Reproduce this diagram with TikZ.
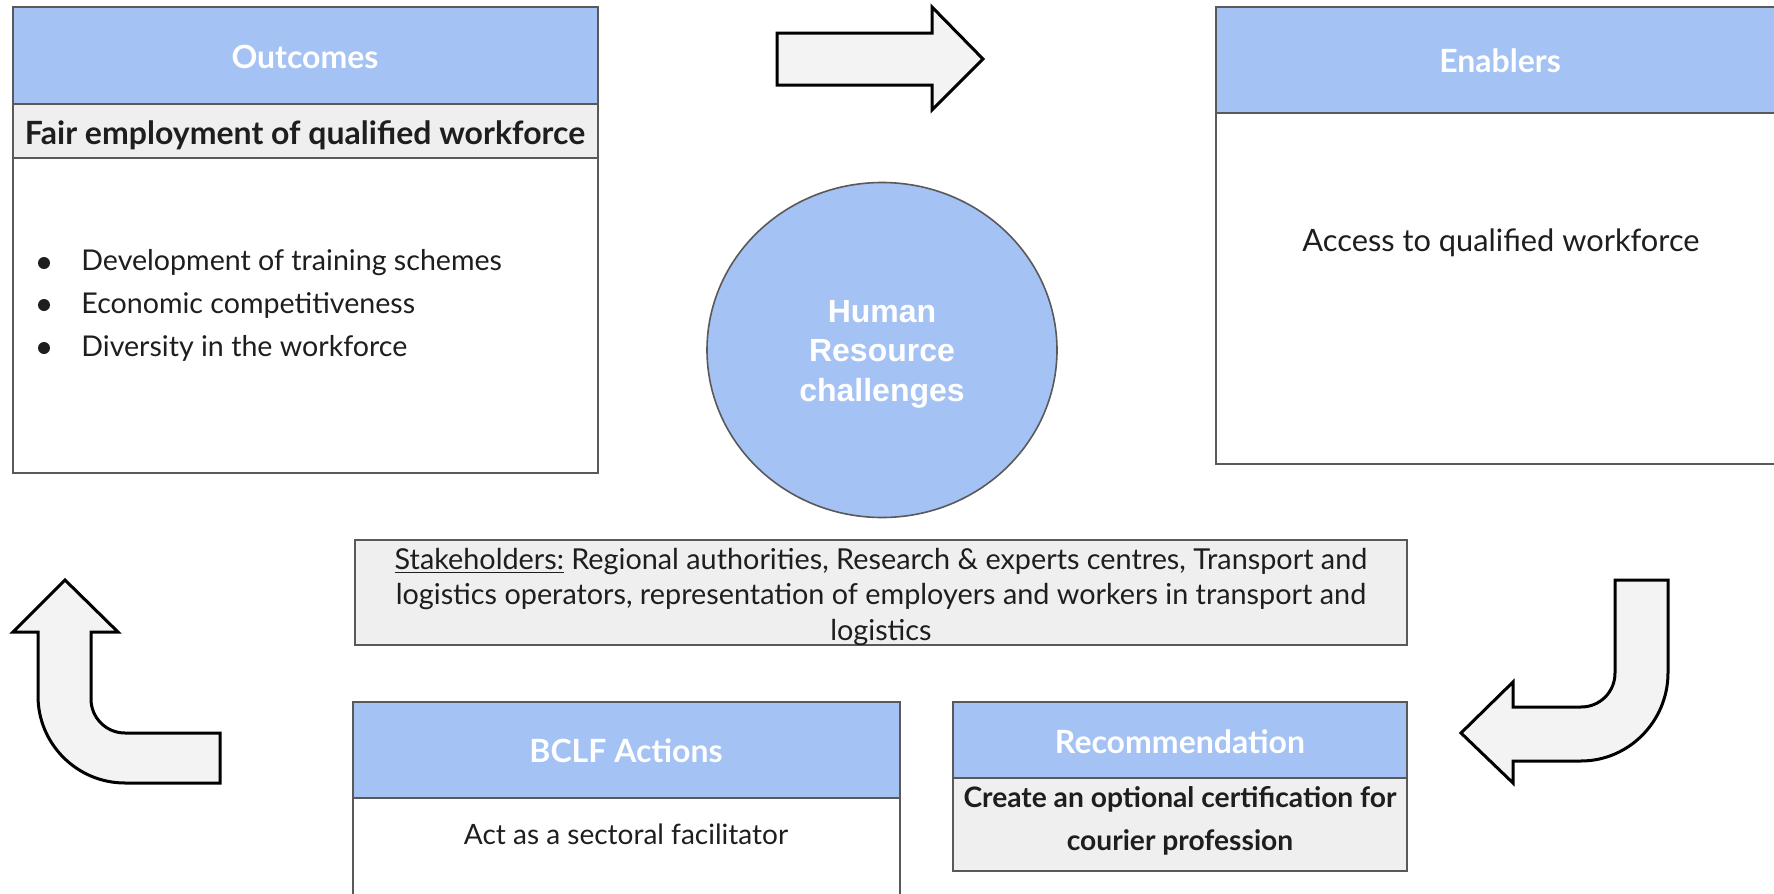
\documentclass[tikz,border=0pt]{standalone}
\usepackage{fontspec}
\usetikzlibrary{shapes.geometric}
\setmainfont{Lato}
\newfontfamily\circfont{Liberation Sans}
\definecolor{hdr}{HTML}{A4C2F4}
\definecolor{gry}{HTML}{EFEFEF}
\definecolor{afill}{HTML}{F3F3F3}
\definecolor{edge}{HTML}{595959}
\definecolor{txt}{HTML}{1E1E1E}
\tikzset{
  hdrfill/.style={fill=hdr, draw=edge, line width=0.8pt},
  grayfill/.style={fill=gry, draw=edge, line width=0.8pt},
  bodyfill/.style={fill=white, draw=edge, line width=0.8pt},
  blockarrow/.style={fill=afill, draw=black, line width=1.5pt, line join=miter},
  titletext/.style={text=white, font=\fontsize{16}{19}\selectfont\bfseries, inner sep=0pt},
  bodytext/.style={text=txt, font=\fontsize{14.3}{18}\selectfont, inner sep=0pt},
  boldtext/.style={text=txt, font=\fontsize{16}{19}\selectfont\bfseries, inner sep=0pt},
}
\begin{document}
\begin{tikzpicture}[x=0.5pt,y=-0.5pt]
\useasboundingbox (0,0) rectangle (1774,894);
\fill[white] (0,0) rectangle (1774,894);

% ---------- Outcomes ----------
\draw[bodyfill] (13,158) rectangle (598,473);
\draw[grayfill] (13,104) rectangle (598,158);
\draw[hdrfill] (13,7) rectangle (598,104);
\node[titletext] (outT) at (305,57) {Outcomes};
\node[boldtext] (outS) at (305,135) {Fair employment of qualified workforce};
\foreach \yy/\tt/\nm in {263/Development of training schemes/b1, 305/Economic competitiveness/b2, 348/Diversity in the workforce/b3}{
  \fill[txt] (44,\yy) circle (6);
  \node[bodytext, anchor=west] (\nm) at (81,\yy) {\tt};
}

% ---------- Enablers ----------
\draw[bodyfill] (1216,113) rectangle (1786,464);
\draw[hdrfill] (1216,7) rectangle (1786,113);
\node[titletext] (enT) at (1500,61) {Enablers};
\node[bodytext, font=\fontsize{15.4}{18}\selectfont] (enB) at (1501,243) {Access to qualified workforce};

% ---------- Circle ----------
\node[ellipse, minimum width=175pt, minimum height=167.5pt, fill=hdr, draw=edge, line width=0.8pt,
      inner sep=0pt] (hr) at (882,350) {};
\node[text=white, font=\circfont\fontsize{16}{19.75}\selectfont\bfseries, align=center, inner sep=0pt]
      (hrT) at (hr.center) [yshift=-2pt] {Human\\Resource\\challenges};

% ---------- Stakeholders ----------
\draw[grayfill] (355,540) rectangle (1407,645);
\node[bodytext, align=center, font=\fontsize{14.4}{17.6}\selectfont] (stk) at (881,597)
  {\underline{Stakeholders:} Regional authorities, Research \& experts centres, Transport and\\
   logistics operators, representation of employers and workers in transport and\\
   logistics};

% ---------- BCLF Actions ----------
\draw[bodyfill] (353,798) rectangle (900,900);
\draw[hdrfill] (353,702) rectangle (900,798);
\node[titletext] (bclfT) at (626,751) {BCLF Actions};
\node[bodytext, font=\fontsize{14}{18}\selectfont] (bclfB) at (626,834) {Act as a sectoral facilitator};

% ---------- Recommendation ----------
\draw[grayfill] (953,778) rectangle (1407,871);
\draw[hdrfill] (953,702) rectangle (1407,778);
\node[titletext] (recT) at (1180,742) {Recommendation};
\node[boldtext, align=center, font=\fontsize{14.1}{21.5}\selectfont\bfseries] (recB) at (1180,821)
  {Create an optional certification for\\courier profession};

% ---------- Block arrows ----------
\draw[blockarrow] (777,33) -- (932,33) -- (932,7) -- (983,59) -- (932,110) -- (932,85) -- (777,85) -- cycle;

\draw[blockarrow] (13,632) -- (65,580) -- (118,632) -- (91,632) -- (91,699)
  .. controls (91,717.8) and (106.2,733) .. (125,733) -- (220,733) -- (220,783) -- (125,783)
  .. controls (77,783) and (38,744) .. (38,696) -- (38,632) -- cycle;

\draw[blockarrow] (1615,580) -- (1668,580) -- (1668,673)
  .. controls (1668,721) and (1629,761) .. (1581,761) -- (1513,761) -- (1513,783) -- (1461,733)
  -- (1513,682) -- (1513,707) -- (1581,707)
  .. controls (1600,707) and (1615,692) .. (1615,673) -- cycle;
\end{tikzpicture}
\end{document}
